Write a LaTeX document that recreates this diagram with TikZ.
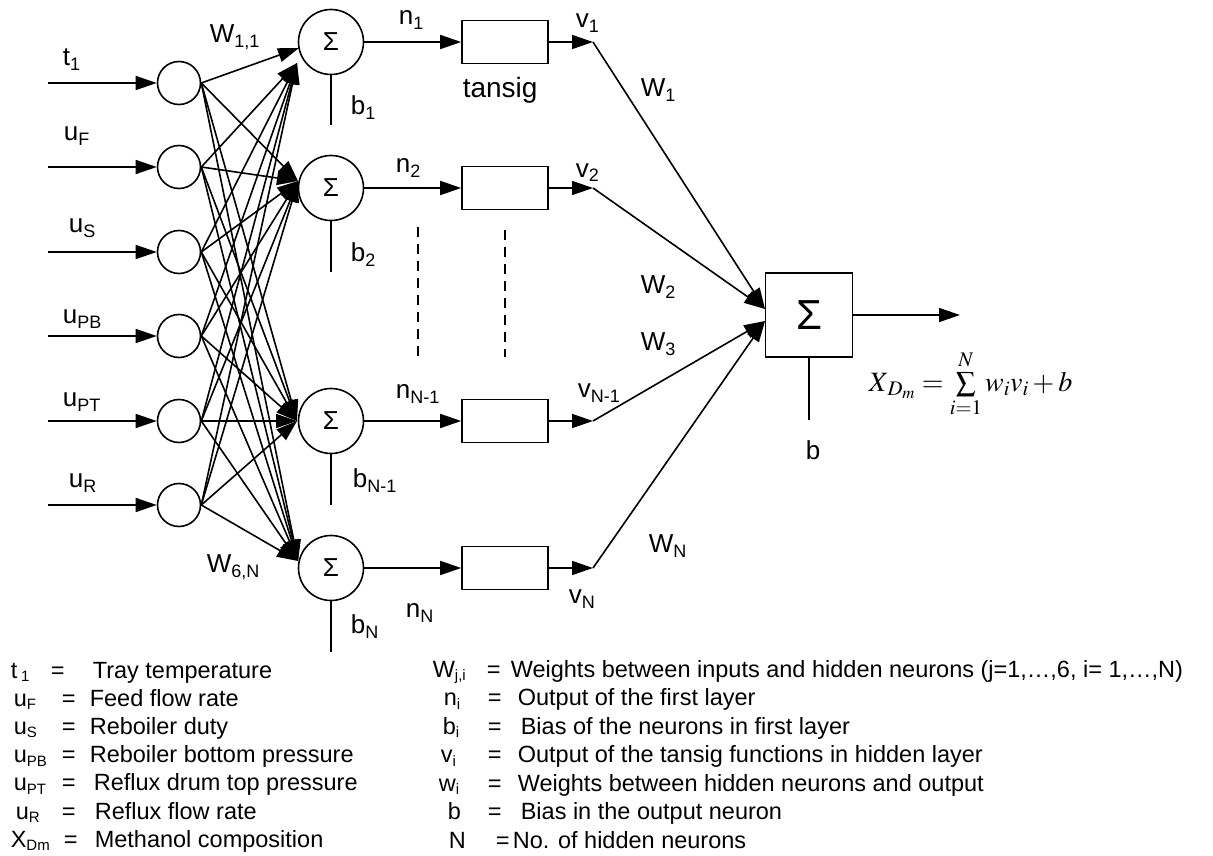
\documentclass[tikz,border=0pt]{standalone}
\usepackage{mathptmx}
\usepackage[no-math]{fontspec}
\setmainfont{Liberation Sans}
\usetikzlibrary{arrows.meta}
% lowered small-size subscripts in the sans text font
\newcommand\lsub[1]{\raisebox{-5pt}{\fontsize{18}{18}\selectfont #1}}
\newcommand\gsub[1]{\raisebox{-3.5pt}{\fontsize{15}{15}\selectfont #1}}

\begin{document}
\begin{tikzpicture}[x=1pt,y=-1pt,line width=1.6pt,
  lbl/.style={anchor=base west,inner sep=0pt,font=\fontsize{26}{30}\selectfont},
  legend/.style={anchor=base west,inner sep=0pt,font=\fontsize{23.5}{28}\selectfont},
  innode/.style={circle,draw,minimum size=43pt,inner sep=0pt},
  sumnode/.style={circle,draw,minimum size=65pt,inner sep=0pt,font=\fontsize{26}{26}\selectfont},
  tfbox/.style={draw,minimum width=86pt,minimum height=43pt,inner sep=0pt},
  outbox/.style={draw,minimum width=87pt,minimum height=84pt,inner sep=0pt,font=\fontsize{42}{42}\selectfont},
  arr/.style={-{Triangle[length=21pt,width=14pt]}},
  guide/.style={line width=1.4pt,dash pattern=on 10pt off 7pt}
]
\useasboundingbox (0,0) rectangle (1213,856);

% ---- input layer ----
\foreach \k/\y in {1/83,2/167,3/252,4/336,5/421,6/505}{
  \node[innode] (i\k) at (179,\y) {};
  \coordinate (s\k) at (48,\y);
  \draw[arr] (s\k) -- (i\k.west);
}
\node[lbl] (lt) at (62,66) {t\lsub{1}};
\node[lbl] (luf) at (63,141) {u\lsub{F}};
\node[lbl] (lus) at (68,232) {u\lsub{S}};
\node[lbl] (lupb) at (62,323) {u\lsub{PB}};
\node[lbl] (lupt) at (62,406) {u\lsub{PT}};
\node[lbl] (lur) at (68,487) {u\lsub{R}};

% ---- hidden summing neurons ----
\node[sumnode] (h1) at (331,42) {Σ};
\node[sumnode] (h2) at (331,188) {Σ};
\node[sumnode] (h3) at (331,421) {Σ};
\node[sumnode] (h4) at (331,568) {Σ};
% points where the weighted connections meet each neuron
\coordinate (c0) at (299,48);
\coordinate (c1) at (297,63);
\coordinate (c2) at (298,181);
\coordinate (c3) at (297,421);
\coordinate (c4) at (298,561);

\draw[arr] (i1.east) -- (c0);
\foreach \k in {2,...,6}{\draw[arr] (i\k.east) -- (c1);}
\foreach \j in {2,3,4}{
  \foreach \k in {1,...,6}{\draw[arr] (i\k.east) -- (c\j);}
}
\node[lbl] (w11) at (209,43) {W\lsub{1,1}};
\node[lbl] (w6n) at (206,572) {W\lsub{6,N}};

% bias inputs
\coordinate (hb1) at (331,125);
\coordinate (hb2) at (331,272);
\coordinate (hb3) at (331,505);
\coordinate (hb4) at (331,652);
\foreach \j in {1,...,4}{\draw (h\j.south) -- (hb\j);}
\node[lbl] (b1) at (350,115) {b\lsub{1}};
\node[lbl] (b2) at (350,261) {b\lsub{2}};
\node[lbl] (b3) at (352,487) {b\lsub{N-1}};
\node[lbl] (b4) at (350,633) {b\lsub{N}};

% ---- tansig transfer blocks ----
\foreach \j/\y in {1/42,2/188,3/421,4/568}{
  \node[tfbox] (f\j) at (505,\y) {};
  \coordinate (v\j) at (593,\y);
  \draw[arr] (h\j.east) -- (f\j.west);
  \draw[arr] (f\j.east) -- (v\j);
}
\node[lbl,font=\fontsize{28}{30}\selectfont] (tansig) at (462,98) {tansig};
\draw[guide] (418,227) -- (418,360);
\draw[guide] (505,230) -- (505,357);

\node[lbl] (n1) at (398,25) {n\lsub{1}};
\node[lbl] (n2) at (395,172) {n\lsub{2}};
\node[lbl] (n3) at (395,398) {n\lsub{N-1}};
\node[lbl] (n4) at (405,617) {n\lsub{N}};
\node[lbl] (lv1) at (575,28) {v\lsub{1}};
\node[lbl] (lv2) at (575,177) {v\lsub{2}};
\node[lbl] (lv3) at (577,397) {v\lsub{N-1}};
\node[lbl] (lv4) at (568,603) {v\lsub{N}};

% ---- output neuron ----
\node[outbox] (o) at (809,315) {Σ};
\coordinate (ot) at (765,309);
\coordinate (ob) at (765,321);
\draw[arr] (v1) -- (ot);
\draw[arr] (v2) -- (ot);
\draw[arr] (v3) -- (ob);
\draw[arr] (v4) -- (ob);
\coordinate (oend) at (960,315);
\draw[arr] (o.east) -- (oend);
\coordinate (ob0) at (809,420);
\draw (o.south) -- (ob0);
\node[lbl] (bo) at (805,459) {b};

\node[lbl] (W1) at (640,97) {W\lsub{1}};
\node[lbl] (W2) at (640,293) {W\lsub{2}};
\node[lbl] (W3) at (640,350) {W\lsub{3}};
\node[lbl] (WN) at (648,552) {W\lsub{N}};

\node[anchor=base west,inner sep=0pt,font=\fontsize{28}{30}\selectfont] (eq) at (868,391)
  {$X_{\,D_m} = \sum\limits_{i=1}^{N} w_i v_i + b$};

% ---- legend, left column ----
\foreach \r/\s/\sx/\ex/\t/\tx in {
  0/{t\,\gsub{1}}/10/50/{Tray temperature}/92,
  1/{u\gsub{F}}/13/61/{Feed flow rate}/89,
  2/{u\gsub{S}}/13/61/{Reboiler duty}/89,
  3/{u\gsub{PB}}/13/61/{Reboiler bottom pressure}/89,
  4/{u\gsub{PT}}/13/61/{Reflux drum top pressure}/93,
  5/{u\gsub{R}}/15/61/{Reflux flow rate}/94,
  6/{X\gsub{Dm}}/10/63/{Methanol composition}/94}{
  \node[legend] (ls\r) at (\sx,678+28.2*\r) {\s};
  \node[legend] (le\r) at (\ex,678+28.2*\r) {=};
  \node[legend] (lt\r) at (\tx,678+28.2*\r) {\t};
}

% ---- legend, right column ----
\foreach \r/\s/\sx/\ex/\t/\tx in {
  0/{W\gsub{j,i}}/432/486/{Weights between inputs and hidden neurons (j=1,…,6, i= 1,…,N)}/510,
  1/{n\gsub{i}}/443/487/{Output of the first layer}/517,
  2/{b\gsub{i}}/442/487/{Bias of the neurons in first layer}/520,
  3/{v\gsub{i}}/440/487/{Output of the tansig functions in hidden layer}/517,
  4/{w\gsub{i}}/438/487/{Weights between hidden neurons and output}/517,
  5/{b}/447/487/{Bias in the output neuron}/520,
  6/{N}/448/495/{No. of hidden neurons}/512}{
  \node[legend] (rs\r) at (\sx,677+28.5*\r) {\s};
  \node[legend] (re\r) at (\ex,677+28.5*\r) {=};
  \node[legend] (rt\r) at (\tx,677+28.5*\r) {\t};
}
\end{tikzpicture}
\end{document}
